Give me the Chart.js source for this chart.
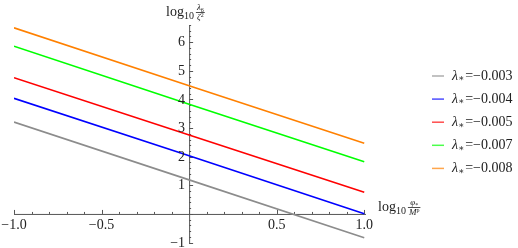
<!DOCTYPE html>
<html>
<head>
<meta charset="utf-8">
<script src="https://cdn.jsdelivr.net/npm/chart.js@4.4.0/dist/chart.umd.min.js"></script>
<style>
  html, body { margin: 0; padding: 0; background: #fff; }
  #wrap { width: 518px; height: 248px; }
</style>
</head>
<body>
<div id="wrap"><canvas id="myChart"></canvas></div>
<script>
// x-verdier (log10 phi/Mp)
const xVals = [-1, 0, 1];

// lambda-verdier og linjene
const lambdas = ['-0.003', '-0.004', '-0.005', '-0.007', '-0.008'];
const grey = [3.21, 1.19, -0.83];
const blue = [4.04, 2.03, 0.01];
const red = [4.76, 2.76, 0.76];
const green = [5.86, 3.83, 1.82];
const orange = [6.5, 4.48, 2.47];
const colors = ['#8c8c8c', '#0000ff', '#ff0000', '#00ff00', '#ff8000'];

// tick-etiketter
const xTicks = [-1.0, -0.5, 0.5, 1.0];
const xTickText = ['\u22121.0', '\u22120.5', '0.5', '1.0'];
const yTicks = [-1, 1, 2, 3, 4, 5, 6];

const serif = '"Liberation Serif", "DejaVu Serif", serif';
const series = [grey, blue, red, green, orange];

function points(ys) {
  return xVals.map((x, i) => ({ x: x, y: ys[i] }));
}

// tegner log10 med brøk
function drawLog(ctx, x, y, num, numSub, den, denSup) {
  ctx.textBaseline = 'alphabetic';
  ctx.textAlign = 'left';
  ctx.font = '14px ' + serif;
  ctx.fillText('log', x, y);
  x += ctx.measureText('log').width;
  ctx.font = '10px ' + serif;
  ctx.fillText('10', x, y + 3);
  x += ctx.measureText('10').width + 2;
  ctx.font = 'italic 9px ' + serif;
  const wn = ctx.measureText(num).width;
  ctx.font = '6px ' + serif;
  const wns = ctx.measureText(numSub).width;
  ctx.font = 'italic 9px ' + serif;
  const wd = ctx.measureText(den).width;
  ctx.font = '6px ' + serif;
  const wds = ctx.measureText(denSup).width;
  const w = Math.max(wn + wns, wd + wds) + 2;
  const nx = x + (w - wn - wns) / 2;
  ctx.font = 'italic 9px ' + serif;
  ctx.fillText(num, nx, y - 6);
  ctx.font = '6px ' + serif;
  ctx.fillText(numSub, nx + wn, y - 4);
  ctx.fillRect(x, y - 4, w, 0.8);
  const dx = x + (w - wd - wds) / 2;
  ctx.font = 'italic 9px ' + serif;
  ctx.fillText(den, dx, y + 4);
  ctx.font = '6px ' + serif;
  ctx.fillText(denSup, dx + wd, y + 1);
}

const axesPlugin = {
  id: 'axesPlugin',
  beforeDatasetsDraw(chart) {
    const ctx = chart.ctx;
    const xs = chart.scales.x;
    const ys = chart.scales.y;
    const x0 = xs.getPixelForValue(0);
    const y0 = ys.getPixelForValue(0);
    ctx.save();
    ctx.strokeStyle = '#555';
    ctx.lineWidth = 1;
    ctx.beginPath();
    ctx.moveTo(xs.left, y0 + 0.5);
    ctx.lineTo(xs.right, y0 + 0.5);
    ctx.moveTo(x0 + 0.5, ys.top);
    ctx.lineTo(x0 + 0.5, ys.bottom);
    // x-ticks hver 0.1
    for (let i = -10; i <= 10; i++) {
      const px = Math.round(xs.getPixelForValue(i / 10)) + 0.5;
      const len = i % 5 === 0 ? 4 : 2;
      ctx.moveTo(px, y0);
      ctx.lineTo(px, y0 - len);
    }
    // y-ticks hver 0.2
    for (let i = -5; i <= 33; i++) {
      const py = Math.round(ys.getPixelForValue(i / 5)) + 0.5;
      const len = i % 5 === 0 ? 4 : 2;
      ctx.moveTo(x0, py);
      ctx.lineTo(x0 + len, py);
    }
    ctx.stroke();
    ctx.restore();
  },
  afterDraw(chart) {
    const ctx = chart.ctx;
    const xs = chart.scales.x;
    const ys = chart.scales.y;
    const x0 = xs.getPixelForValue(0);
    const y0 = ys.getPixelForValue(0);
    ctx.save();
    ctx.fillStyle = '#222';
    ctx.font = '14px ' + serif;
    ctx.textAlign = 'center';
    ctx.textBaseline = 'middle';
    xTicks.forEach((v, i) => {
      ctx.fillText(xTickText[i], xs.getPixelForValue(v), y0 + 11);
    });
    ctx.textAlign = 'right';
    yTicks.forEach(v => {
      const t = v < 0 ? '\u2212' + Math.abs(v) : String(v);
      ctx.fillText(t, x0 - 4, ys.getPixelForValue(v) + 0.5);
    });

    // aksetitler
    drawLog(ctx, 166, 16, '\u03bb', '6', '\u03b6', '2');
    drawLog(ctx, 378, 211, '\u03c6', '*', 'M', 'p');

    // forklaring
    chart.data.datasets.forEach((ds, i) => {
      const y = 76 + i * 23.1;
      ctx.strokeStyle = ds.borderColor;
      ctx.globalAlpha = 0.7;
      ctx.lineWidth = 1.5;
      ctx.beginPath();
      ctx.moveTo(432, y);
      ctx.lineTo(444, y);
      ctx.stroke();
      ctx.globalAlpha = 1;
      ctx.fillStyle = '#222';
      ctx.textAlign = 'left';
      ctx.textBaseline = 'middle';
      let x = 452;
      ctx.font = 'italic 14px ' + serif;
      ctx.fillText('\u03bb', x, y);
      x += ctx.measureText('\u03bb').width;
      ctx.font = '9px ' + serif;
      ctx.fillText('\u2217', x, y + 3);
      x += ctx.measureText('\u2217').width + 1;
      ctx.font = '14px ' + serif;
      ctx.fillText('=' + ds.label.replace('-', '\u2212'), x, y);
    });
    ctx.restore();
  }
};

const ctx = document.getElementById('myChart').getContext('2d');
new Chart(ctx, {
  type: 'line',
  data: {
    datasets: series.map((s, i) => ({
      label: lambdas[i],
      data: points(s),
      borderColor: colors[i],
      borderWidth: 1.6,
      pointRadius: 0,
      tension: 0,
      fill: false
    }))
  },
  options: {
    responsive: true,
    maintainAspectRatio: false,
    animation: false,
    layout: { padding: { left: 14, right: 152, top: 25, bottom: 4 } },
    plugins: {
      legend: { display: false },
      tooltip: { enabled: false }
    },
    scales: {
      x: { type: 'linear', min: -1, max: 1.01, display: false },
      y: { type: 'linear', min: -1.05, max: 6.6, display: false }
    }
  },
  plugins: [axesPlugin]
});
</script>
</body>
</html>
